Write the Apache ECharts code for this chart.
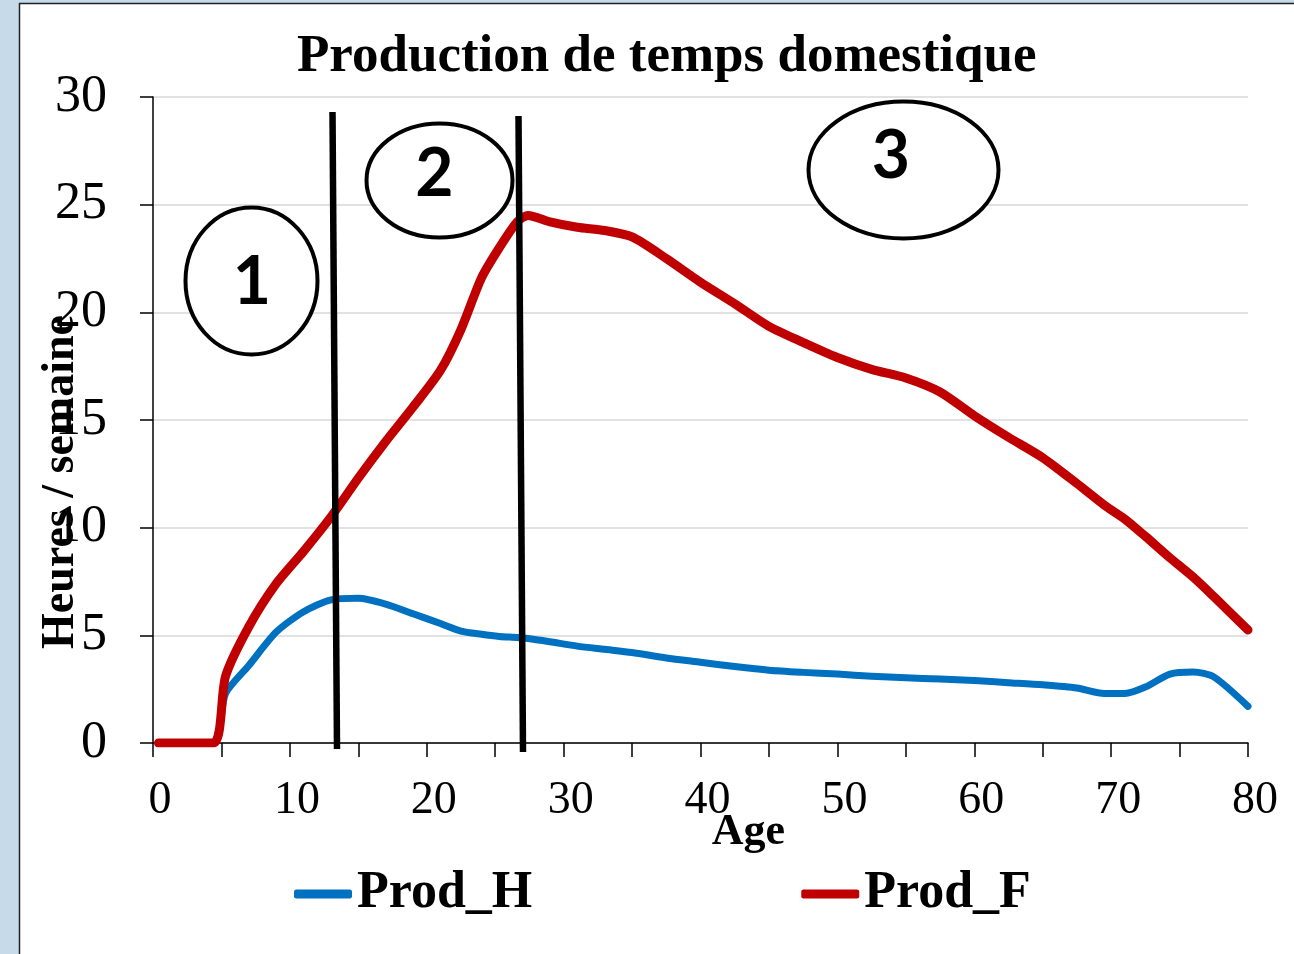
<!DOCTYPE html>
<html>
<head>
<meta charset="utf-8">
<script src="https://cdn.jsdelivr.net/npm/echarts@6/dist/echarts.min.js"></script>
<style>
  html, body { margin: 0; padding: 0; background: #fff; }
  #main { width: 1294px; height: 954px; }
</style>
</head>
<body>
<div id="main"></div>
<script>
// Données
var ages = [0.4, 4.4, 5.3, 7, 9, 11, 13, 15, 17, 19, 21, 22.5, 24, 25.3, 26.6, 27.4, 29, 31, 33, 35,
            37.5, 40, 42.5, 45, 47.5, 50, 52.5, 55, 57.5, 60, 62.5, 65, 67.5, 69.5, 71, 72.5, 74.3, 76, 77.5, 80];
var prodH = [0, 0, 2.3, 3.6, 5.15, 6.1, 6.65, 6.72, 6.45, 6.0, 5.55, 5.2, 5.05, 4.95, 4.9, 4.85, 4.7, 4.5, 4.35, 4.2,
             3.95, 3.75, 3.55, 3.38, 3.28, 3.2, 3.1, 3.03, 2.97, 2.9, 2.8, 2.7, 2.55, 2.3, 2.3, 2.6, 3.2, 3.3, 3.07, 1.7];
var prodF = [0, 0, 3.1, 5.4, 7.4, 8.9, 10.5, 12.3, 14.0, 15.6, 17.3, 19.2, 21.6, 23.0, 24.2, 24.5, 24.2, 23.95, 23.8, 23.5,
             22.5, 21.4, 20.4, 19.35, 18.6, 17.9, 17.35, 16.95, 16.3, 15.2, 14.2, 13.25, 12.05, 11.05, 10.4, 9.6, 8.6, 7.7, 6.8, 5.25];
var seriesNames = ['Prod_H', 'Prod_F'];
var yTicks = [0, 5, 10, 15, 20, 25, 30];
var xLabelTicks = [0, 10, 20, 30, 40, 50, 60, 70, 80];

function pairs(vals) {
  var out = [];
  for (var i = 0; i < ages.length; i++) out.push([ages[i], vals[i]]);
  return out;
}

var serif = "'Liberation Serif', 'Times New Roman', serif";
var myChart = echarts.init(document.getElementById('main'));

var option = {
  backgroundColor: '#fff',
  animation: false,
  title: {
    text: 'Production de temps domestique',
    left: 297,
    top: 31,
    padding: 0,
    textStyle: { fontFamily: serif, fontWeight: 'bold', fontSize: 53, color: '#000' }
  },
  legend: {
    left: 294,
    top: 868,
    padding: 0,
    itemGap: 269,
    itemWidth: 58,
    itemHeight: 9,
    icon: 'roundRect',
    data: seriesNames,
    textStyle: { fontFamily: serif, fontWeight: 'bold', fontSize: 52, color: '#000', lineHeight: 52 }
  },
  grid: { left: 153, top: 97, right: 1294 - 1248, bottom: 954 - 743, containLabel: false },
  xAxis: {
    type: 'value',
    min: 0,
    max: 80,
    interval: 5,
    name: 'Age',
    nameLocation: 'middle',
    nameGap: 68,
    nameMoveOverlap: false,
    nameTextStyle: { fontFamily: serif, fontWeight: 'bold', fontSize: 44, color: '#000', padding: [0, 0, 0, 96] },
    axisLine: { lineStyle: { color: '#000', width: 1.5 } },
    axisTick: { length: 14, lineStyle: { color: '#000', width: 1.5 } },
    axisLabel: {
      margin: 35,
      fontFamily: serif,
      fontSize: 46,
      color: '#000',
      padding: [0, 0, 0, 14],
      formatter: function (v) { return xLabelTicks.indexOf(v) >= 0 ? String(v) : ''; }
    },
    splitLine: { show: false }
  },
  yAxis: {
    type: 'value',
    min: 0,
    max: 30,
    interval: 5,
    axisLine: { show: true, lineStyle: { color: '#000', width: 1.5 } },
    axisTick: { show: true, length: 13, lineStyle: { color: '#000', width: 1.5 } },
    axisLabel: {
      margin: 46,
      fontFamily: serif,
      fontSize: 52,
      color: '#000',
      formatter: function (v) { return yTicks.indexOf(v) >= 0 ? String(v) : ''; }
    },
    splitLine: { lineStyle: { color: '#d9d9d9', width: 1.5 } }
  },
  series: [
    {
      name: seriesNames[0],
      type: 'line',
      data: pairs(prodH),
      showSymbol: false,
      smooth: 0.25,
      color: '#0070c0',
      lineStyle: { width: 7, color: '#0070c0', cap: 'round', join: 'round' },
      z: 2
    },
    {
      name: seriesNames[1],
      type: 'line',
      data: pairs(prodF),
      showSymbol: false,
      smooth: 0.25,
      color: '#c00000',
      lineStyle: { width: 9, color: '#c00000', cap: 'round', join: 'round' },
      z: 3
    }
  ],
  graphic: [
    // bord gauche / haut de la diapositive
    { type: 'rect', shape: { x: 0, y: 0, width: 19, height: 954 }, style: { fill: '#c7dae9' }, silent: true },
    { type: 'rect', shape: { x: 0, y: 0, width: 1294, height: 3 }, style: { fill: '#c7dae9' }, silent: true },
    { type: 'line', shape: { x1: 19.5, y1: 3, x2: 19.5, y2: 954 }, style: { stroke: '#222', lineWidth: 1.5 }, silent: true },
    { type: 'line', shape: { x1: 19, y1: 3.5, x2: 1294, y2: 3.5 }, style: { stroke: '#222', lineWidth: 1.5 }, silent: true },
    // titre de l'axe vertical
    {
      type: 'text', x: 61, y: 482, rotation: Math.PI / 2, z: 100,
      style: { text: 'Heures / semaine', font: 'bold 46px ' + serif, fill: '#000', align: 'center', verticalAlign: 'middle' }
    },
    // séparations des phases
    { type: 'line', z: 50, shape: { x1: 332.5, y1: 112, x2: 337, y2: 749 }, style: { stroke: '#000', lineWidth: 6.5 } },
    { type: 'line', z: 50, shape: { x1: 518.5, y1: 116, x2: 523, y2: 752 }, style: { stroke: '#000', lineWidth: 6.5 } },
    // ellipses numérotées
    { type: 'ellipse', z: 50, shape: { cx: 251.5, cy: 281, rx: 66, ry: 73.5 }, style: { fill: '#fff', stroke: '#000', lineWidth: 4 } },
    { type: 'ellipse', z: 50, shape: { cx: 439.5, cy: 180.5, rx: 73, ry: 57 }, style: { fill: '#fff', stroke: '#000', lineWidth: 4 } },
    { type: 'ellipse', z: 50, shape: { cx: 903.5, cy: 170, rx: 95, ry: 68.5 }, style: { fill: '#fff', stroke: '#000', lineWidth: 4 } },
    { type: 'text', z: 51, x: 252, y: 283, style: { text: '1', font: 'bold 66px Lato, sans-serif', fill: '#000', align: 'center', verticalAlign: 'middle' } },
    { type: 'text', z: 51, x: 434.5, y: 175, style: { text: '2', font: 'bold 66px Lato, sans-serif', fill: '#000', align: 'center', verticalAlign: 'middle' } },
    { type: 'text', z: 51, x: 891, y: 157, style: { text: '3', font: 'bold 66px Lato, sans-serif', fill: '#000', align: 'center', verticalAlign: 'middle' } }
  ]
};

myChart.setOption(option);
window.addEventListener('resize', function () { myChart.resize(); });
</script>
</body>
</html>
